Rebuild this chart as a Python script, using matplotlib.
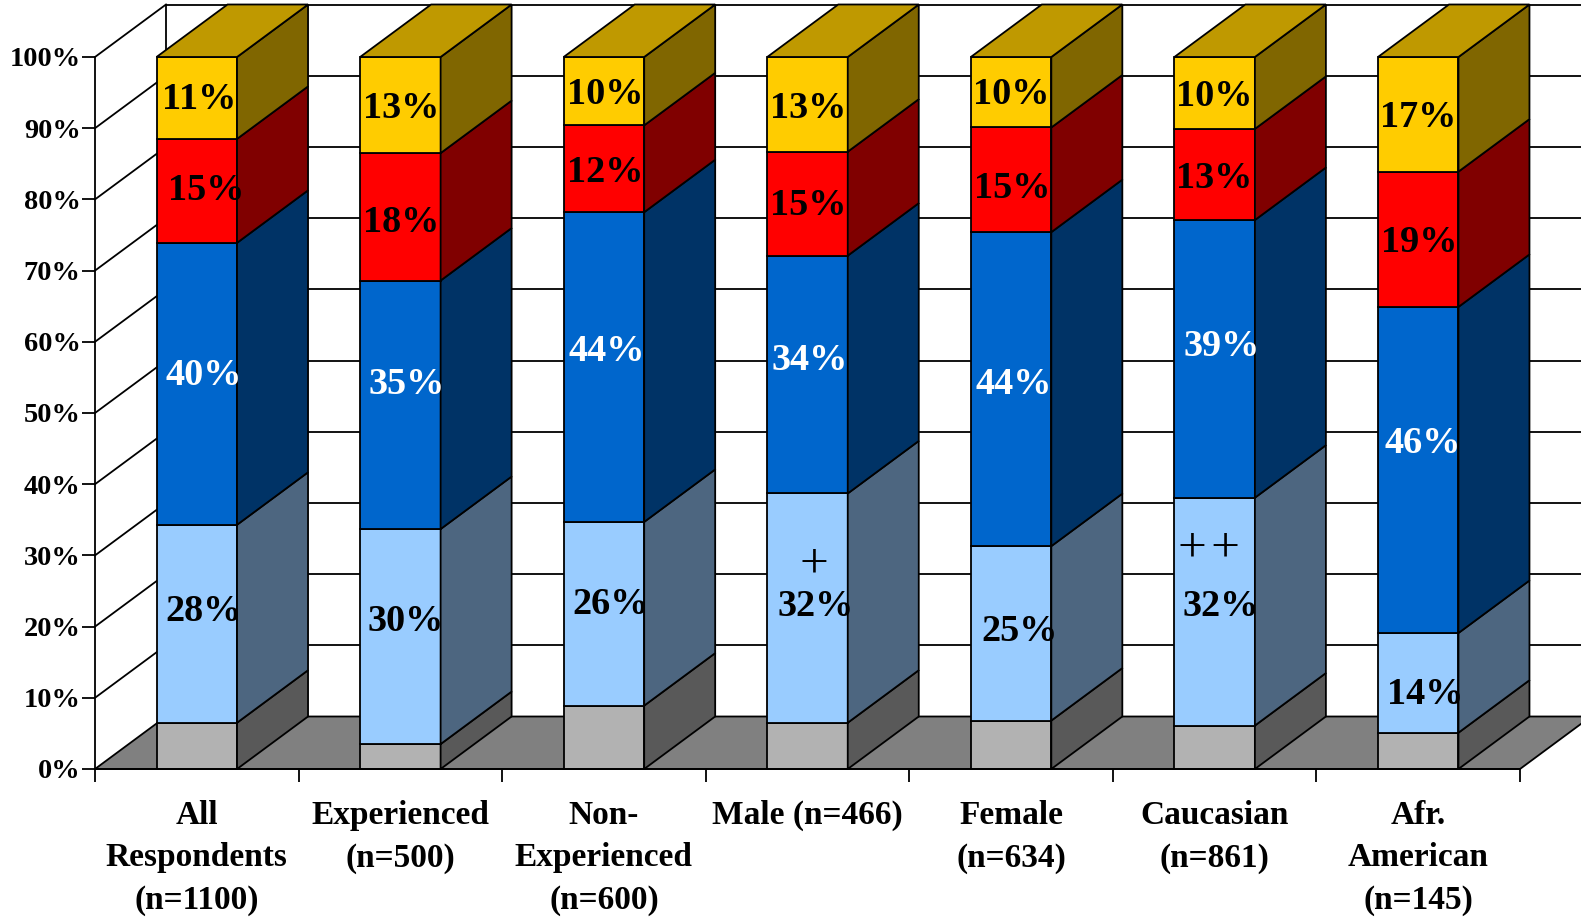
import matplotlib
matplotlib.use("Agg")
import matplotlib.pyplot as plt
from matplotlib.patches import Polygon

# categories
categories = ["All\nRespondents\n(n=1100)", "Experienced\n(n=500)", "Non-\nExperienced\n(n=600)",
              "Male (n=466)", "Female\n(n=634)", "Caucasian\n(n=861)", "Afr.\nAmerican\n(n=145)"]

# segment heights, bottom to top
other = [6.5, 3.5, 8.9, 6.5, 6.8, 6.1, 5.1]
light = [27.8, 30.2, 25.8, 32.2, 24.5, 32.0, 14.0]
blue = [39.6, 34.9, 43.5, 33.4, 44.1, 39.0, 45.8]
red = [14.6, 17.9, 12.2, 14.6, 14.7, 12.8, 19.0]
gold = [11.5, 13.5, 9.6, 13.3, 9.9, 10.1, 16.1]

# printed percentages
light_text = ["28%", "30%", "26%", "32%", "25%", "32%", "14%"]
blue_text = ["40%", "35%", "44%", "34%", "44%", "39%", "46%"]
red_text = ["15%", "18%", "12%", "15%", "15%", "13%", "19%"]
gold_text = ["11%", "13%", "10%", "13%", "10%", "10%", "17%"]

# where the printed percentages sit (height on the axis)
light_y = [22.1, 20.7, 23.1, 22.8, 19.3, 22.8, 10.5]
blue_y = [55.2, 54.0, 58.7, 57.4, 54.0, 59.3, 45.7]
red_y = [81.2, 76.8, 83.8, 79.2, 81.5, 82.9, 74.0]
gold_y = [94.0, 92.7, 94.7, 92.8, 94.7, 94.4, 91.5]

# sideways nudge of the printed percentages, in pixels
light_dx = [7, 5, 7, 8, 9, 6, 7]
blue_dx = [7, 6, 3, 2, 3, 7, 5]
red_dx = [9, 1, 1, 1, 1, 0, 1]
gold_dx = [2, 1, 1, 1, 0, 0, 0]

W, H = 1581, 917
LEFT, RIGHT, BOTTOM, TOP = 95, 1520, 769, 57
slot_px = (RIGHT - LEFT) / 7
pct_px = (BOTTOM - TOP) / 100
depth_x = 71 / slot_px      # depth of the fake 3d box
depth_y = 52.5 / pct_px
bar_w = 80.5 / slot_px

plt.rcParams['font.family'] = ['Liberation Serif', 'DejaVu Serif']
plt.rcParams['font.weight'] = 'bold'

fig = plt.figure(figsize=(W / 100, H / 100), dpi=100, facecolor="white")
ax = fig.add_axes([LEFT / W, 1 - BOTTOM / H, (RIGHT - LEFT) / W, (BOTTOM - TOP) / H])
ax.patch.set_visible(False)
ax.set_xlim(0, 7)
ax.set_ylim(0, 100)

lw = 1.3

# walls
for y in range(0, 101, 10):
    if y > 0:
        ax.plot([0, depth_x], [y, y + depth_y], color="black", lw=lw, clip_on=False, zorder=1)
        ax.plot([depth_x, 7.5], [y + depth_y, y + depth_y], color="black", lw=lw, clip_on=False, zorder=1)
ax.plot([depth_x, depth_x], [depth_y, 100 + depth_y], color="black", lw=lw, clip_on=False, zorder=1)

# floor
ax.add_patch(Polygon([(0, 0), (depth_x, depth_y), (7 + depth_x, depth_y), (7, 0)], closed=True,
                     facecolor="#808080", edgecolor="black", lw=lw, clip_on=False, zorder=2))

series = [(other, "#B2B2B2", "#595959"),
          (light, "#99CCFF", "#4D6680"),
          (blue, "#0066CC", "#003366"),
          (red, "#FF0000", "#800000"),
          (gold, "#FFCC00", "#806600")]

# bars, left to right so the sides overlap properly
for i in range(7):
    x0 = i + 0.5 - bar_w / 2
    x1 = i + 0.5 + bar_w / 2
    bottom = 0
    for vals, front, side in series:
        v = vals[i]
        ax.bar(i + 0.5, v, bar_w, bottom=bottom, color=front, edgecolor="black", linewidth=lw,
               clip_on=False, zorder=3)
        ax.add_patch(Polygon([(x1, bottom), (x1 + depth_x, bottom + depth_y),
                              (x1 + depth_x, bottom + v + depth_y), (x1, bottom + v)], closed=True,
                             facecolor=side, edgecolor="black", lw=lw, clip_on=False, zorder=3))
        bottom += v
    ax.add_patch(Polygon([(x0, bottom), (x1, bottom), (x1 + depth_x, bottom + depth_y),
                          (x0 + depth_x, bottom + depth_y)], closed=True,
                         facecolor="#BF9900", edgecolor="black", lw=lw, clip_on=False, zorder=3))

# percent labels
rows = [(light_text, light_y, light_dx, "black"),
        (blue_text, blue_y, blue_dx, "white"),
        (red_text, red_y, red_dx, "black"),
        (gold_text, gold_y, gold_dx, "black")]
for texts, ys, dxs, col in rows:
    for i in range(7):
        ax.text(i + 0.5 + dxs[i] / slot_px, ys[i], texts[i], color=col, fontsize=27.5,
                ha="center", va="center", zorder=5)

# significance marks
ax.text(3.5 + 6 / slot_px, 28.6, "+", fontsize=37, fontweight="normal", ha="center", va="center", zorder=5)
ax.text(5.5 - 6 / slot_px, 30.8, "+\u200a+", fontsize=37, fontweight="normal", ha="center", va="center", zorder=5)

# axes
for s in ["top", "right"]:
    ax.spines[s].set_visible(False)
ax.spines["left"].set_linewidth(lw)
ax.spines["bottom"].set_linewidth(lw)
ax.spines["left"].set_zorder(4)
ax.spines["bottom"].set_zorder(4)

ax.set_yticks(range(0, 101, 10))
ax.set_yticklabels([str(v) + "%" for v in range(0, 101, 10)], fontsize=20.4)
ax.tick_params(axis="y", length=9.4, width=lw, pad=1)

ax.set_xticks(range(8))
ax.set_xticklabels([])
ax.set_xticks([i + 0.5 for i in range(7)], minor=True)
ax.set_xticklabels(categories, minor=True, fontsize=24, linespacing=1.49)
ax.tick_params(axis="x", which="major", length=9.4, width=lw)
ax.tick_params(axis="x", which="minor", length=0, pad=22)

fig.savefig("out.png", dpi=100)
